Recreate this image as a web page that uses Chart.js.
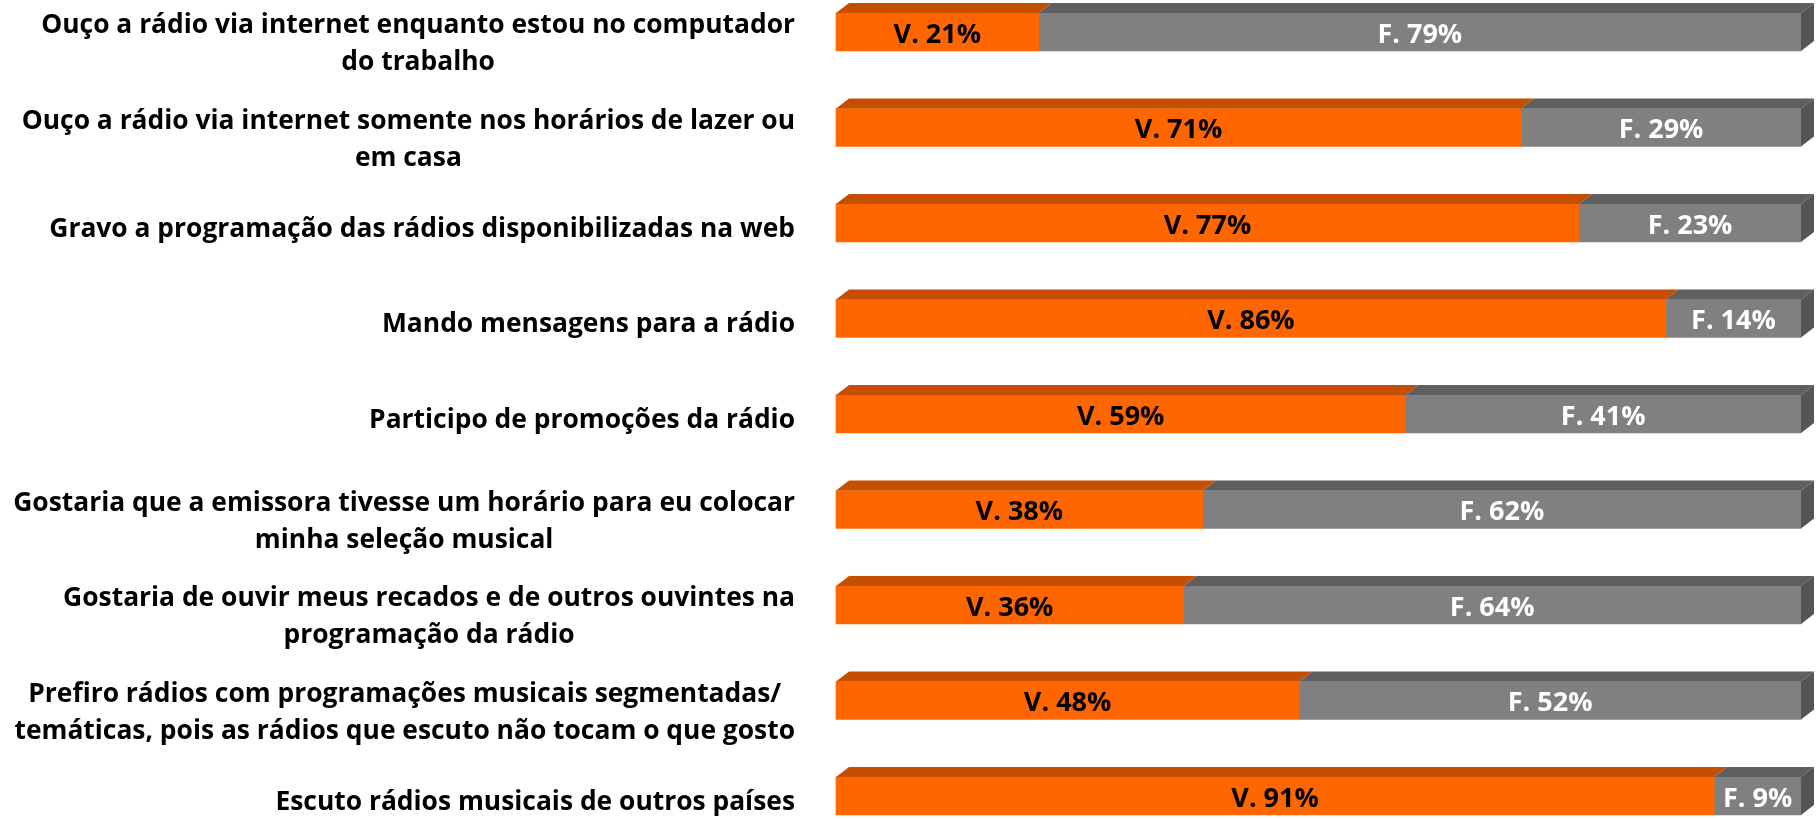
<!DOCTYPE html>
<html>
<head>
<meta charset="utf-8">
<script src="https://cdn.jsdelivr.net/npm/chart.js@4"></script>
<style>
  body { margin: 0; background: #fff; }
  canvas { display: block; }
</style>
</head>
<body>
<canvas id="myChart" width="1818" height="819"></canvas>
<script>
'use strict';
let categories = [
    ['Ouço a rádio via internet enquanto estou no computador', 'do trabalho'],
    ['Ouço a rádio via internet somente nos horários de lazer ou', 'em casa'],
    ['Gravo a programação das rádios disponibilizadas na web'],
    ['Mando mensagens para a rádio'],
    ['Participo de promoções da rádio'],
    ['Gostaria que a emissora tivesse um horário para eu colocar', 'minha seleção musical'],
    ['Gostaria de ouvir meus recados e de outros ouvintes na', 'programação da rádio'],
    ['Prefiro rádios com programações musicais segmentadas/', 'temáticas, pois as rádios que escuto não tocam o que gosto'],
    ['Escuto rádios musicais de outros países']
];
let verdadeiro = [21, 71, 77, 86, 59, 38, 36, 48, 91];
let falso = [79, 29, 23, 14, 41, 62, 64, 52, 9];
let prefixes = ['V. ', 'F. '];

let depthX = 13;
let depthY = 10;

// faces for the fake 3d look + value text
let bar3d = {
    id: 'bar3d',
    afterDatasetsDraw(chart) {
        let ctx = chart.ctx;
        let tops = ['#c44f00', '#5f5f5f'];
        ctx.save();
        chart.data.datasets.forEach(function (ds, di) {
            let meta = chart.getDatasetMeta(di);
            meta.data.forEach(function (bar, index) {
                let x0 = Math.min(bar.base, bar.x);
                let x1 = Math.max(bar.base, bar.x);
                let top = bar.y - bar.height / 2;
                let bottom = bar.y + bar.height / 2;
                ctx.fillStyle = tops[di];
                ctx.beginPath();
                ctx.moveTo(x0, top);
                ctx.lineTo(x0 + depthX, top - depthY);
                ctx.lineTo(x1 + depthX, top - depthY);
                ctx.lineTo(x1, top);
                ctx.closePath();
                ctx.fill();
                if (di === chart.data.datasets.length - 1) {
                    ctx.fillStyle = '#555555';
                    ctx.beginPath();
                    ctx.moveTo(x1, top);
                    ctx.lineTo(x1 + depthX, top - depthY);
                    ctx.lineTo(x1 + depthX, bottom - depthY);
                    ctx.lineTo(x1, bottom);
                    ctx.closePath();
                    ctx.fill();
                }
                ctx.font = 'bold 27px "Open Sans"';
                ctx.fillStyle = di === 0 ? '#000' : '#fff';
                ctx.textAlign = 'center';
                ctx.textBaseline = 'middle';
                ctx.fillText(prefixes[di] + ds.data[index] + '%', (x0 + x1) / 2, bar.y + 3);
            });
        });
        ctx.restore();
    }
};

// category labels, centred lines in a right aligned block
let sideLabels = {
    id: 'sideLabels',
    afterDraw(chart) {
        let ctx = chart.ctx;
        let yScale = chart.scales.y;
        let right = 795;
        let lineH = 37;
        ctx.save();
        // size the font so the first line is as wide as in the picture
        ctx.font = 'bold 26px "Open Sans"';
        let size = 26 * 755 / ctx.measureText(categories[0][0]).width;
        ctx.font = 'bold ' + size.toFixed(1) + 'px "Open Sans"';
        ctx.fillStyle = '#000';
        ctx.textAlign = 'center';
        ctx.textBaseline = 'middle';
        categories.forEach(function (lines, i) {
            let maxW = 0;
            lines.forEach(function (l) { maxW = Math.max(maxW, ctx.measureText(l).width); });
            let cx = right - maxW / 2;
            let cy = yScale.getPixelForValue(i) + 6 + (lines.length - 1) * 6;
            let y0 = cy - (lines.length - 1) * lineH / 2;
            lines.forEach(function (l, j) {
                ctx.fillText(l, cx, y0 + j * lineH);
            });
        });
        ctx.restore();
    }
};

function chartRender() {
    let ctx = document.getElementById('myChart').getContext('2d');
    let myChart = new Chart(ctx, {
        type: 'bar',
        data: {
            labels: categories,
            datasets: [{
                label: 'V',
                data: verdadeiro,
                backgroundColor: '#ff6600',
                barThickness: 38,
                clip: false
            }, {
                label: 'F',
                data: falso,
                backgroundColor: '#808080',
                barThickness: 38,
                clip: false
            }]
        },
        options: {
            indexAxis: 'y',
            responsive: false,
            animation: false,
            layout: {
                padding: { left: 836, right: 17, top: 32, bottom: 23 }
            },
            plugins: {
                legend: { display: false },
                tooltip: { enabled: false }
            },
            scales: {
                x: {
                    stacked: true,
                    min: 0,
                    max: 100,
                    display: false
                },
                y: {
                    stacked: true,
                    offset: false,
                    display: false
                }
            }
        },
        plugins: [bar3d, sideLabels]
    });
}
chartRender();
</script>
</body>
</html>
